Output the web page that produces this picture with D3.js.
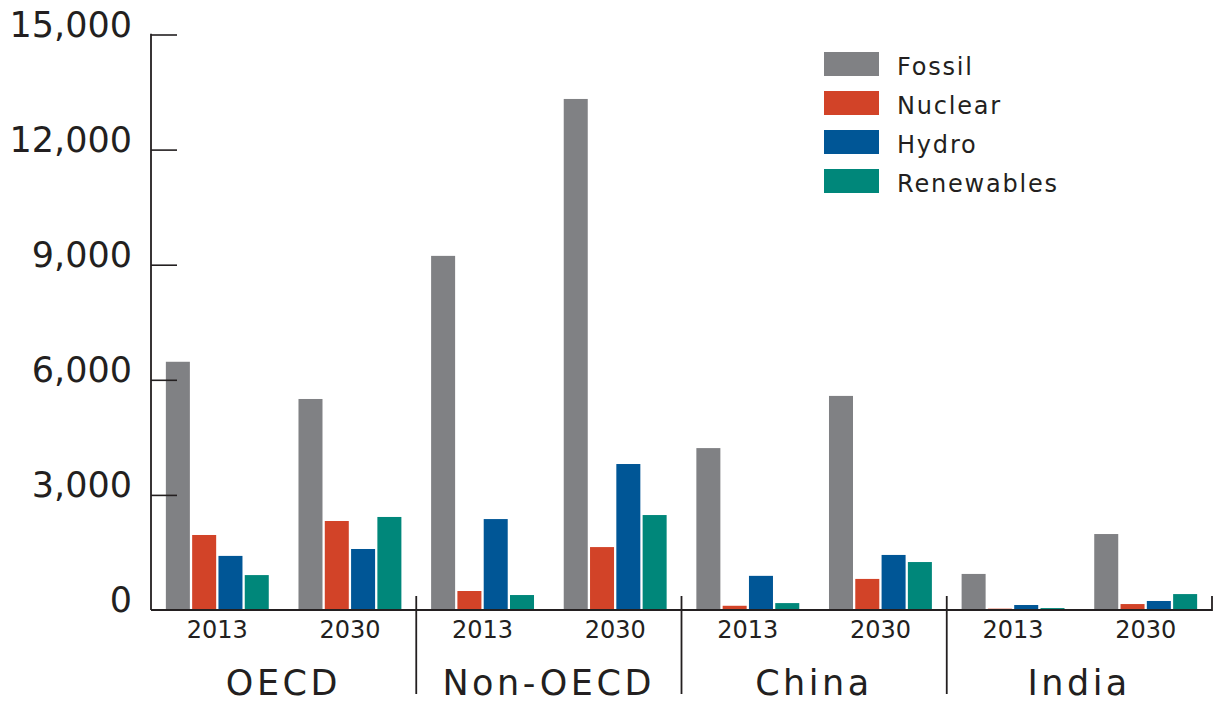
<!DOCTYPE html>
<html>
<head>
<meta charset="utf-8">
<script src="https://cdn.jsdelivr.net/npm/d3@7"></script>
<style>
  html, body { margin: 0; padding: 0; background: #fff; }
  svg { display: block; font-family: "DejaVu Sans", sans-serif; }
</style>
</head>
<body>
<svg id="chart" width="1222" height="704"></svg>
<script>
// Electricity generation by source, 2013 vs 2030
const groups = ["OECD", "Non-OECD", "China", "India"];
const years = ["2013", "2030"];
const series = ["Fossil", "Nuclear", "Hydro", "Renewables"];
const colors = ["#808184", "#d24328", "#005696", "#00877a"];

// values per series, ordered group by group, year by year
const fossil     = [6470, 5500, 9230, 13320, 4220, 5580, 940, 1980];
const nuclear    = [1955, 2320, 495, 1640, 110, 810, 35, 155];
const hydro      = [1410, 1590, 2370, 3805, 890, 1435, 130, 235];
const renewables = [910, 2425, 390, 2475, 180, 1250, 50, 415];

const yTicks = [0, 3000, 6000, 9000, 12000, 15000];

const seriesValues = [fossil, nuclear, hydro, renewables];
const rows = [];
groups.forEach((g, gi) => years.forEach((yr, yi) => {
  const idx = gi * years.length + yi;
  series.forEach((s, si) => rows.push({ group: g, year: yr, series: s, value: seriesValues[si][idx] }));
}));

const svg = d3.select("#chart");
const plotLeft = 151, plotRight = 1212, plotTop = 34.5, plotBottom = 610;
const ink = "#231f20";

const x0 = d3.scaleBand().domain(groups).range([plotLeft, plotRight]).padding(0);
const x1 = d3.scaleBand().domain(years).range([0, x0.bandwidth()]).padding(0);
const x2 = d3.scaleBand().domain(series).range([0, x1.bandwidth()])
  .paddingInner(0.087).paddingOuter(0.565);
const y = d3.scaleLinear().domain([0, 15000]).range([plotBottom, plotTop]);
const color = d3.scaleOrdinal().domain(series).range(colors);

// bars
svg.append("g").selectAll("rect").data(rows).join("rect")
  .attr("x", d => x0(d.group) + x1(d.year) + x2(d.series))
  .attr("y", d => y(d.value))
  .attr("width", x2.bandwidth())
  .attr("height", d => y(0) - y(d.value))
  .attr("fill", d => color(d.series));

// y axis: ticks pointing inward, labels sitting on the tick line
const yAxis = d3.axisRight(y).tickValues(yTicks).tickSize(26).tickFormat("");
const yg = svg.append("g").attr("transform", `translate(${plotLeft},0)`).call(yAxis);
yg.select(".domain").remove();
yg.selectAll(".tick line").attr("stroke", ink).attr("stroke-width", 1.6)
  .filter(d => d === 0).remove();
svg.append("line").attr("x1", plotLeft).attr("x2", plotLeft).attr("y1", y(15000) - 0.8).attr("y2", y(0))
  .attr("stroke", ink).attr("stroke-width", 1.8);
svg.append("g").selectAll("text").data(yTicks).join("text")
  .attr("x", 132).attr("y", d => y(d) + 2)
  .attr("text-anchor", "end")
  .attr("font-size", 35).attr("fill", ink)
  .text(d3.format(","));

// baseline
svg.append("line").attr("x1", plotLeft).attr("x2", plotRight).attr("y1", y(0)).attr("y2", y(0))
  .attr("stroke", ink).attr("stroke-width", 1.8);

// group separators
svg.append("g").selectAll("line").data(groups.slice(1)).join("line")
  .attr("x1", d => x0(d)).attr("x2", d => x0(d))
  .attr("y1", 596).attr("y2", 694)
  .attr("stroke", ink).attr("stroke-width", 1.8);
svg.append("line").attr("x1", plotRight).attr("x2", plotRight).attr("y1", 596).attr("y2", y(0) + 0.9)
  .attr("stroke", ink).attr("stroke-width", 1.8);

// year labels
svg.append("g").selectAll("text").data(groups.flatMap(g => years.map(yr => ({ g, yr })))).join("text")
  .attr("x", d => x0(d.g) + x1(d.yr) + x1.bandwidth() / 2)
  .attr("y", 638)
  .attr("text-anchor", "middle")
  .attr("font-size", 24).attr("fill", ink)
  .text(d => d.yr);

// group labels
const gLs = 3.5;
svg.append("g").selectAll("text").data(groups).join("text")
  .attr("x", d => x0(d) + x0.bandwidth() / 2 - 2)
  .attr("y", 695).attr("dx", gLs / 2)
  .attr("text-anchor", "middle")
  .attr("font-size", 35).attr("letter-spacing", gLs).attr("fill", ink)
  .text(d => d);

// legend
const legend = svg.append("g").attr("transform", "translate(824,52)");
const item = legend.selectAll("g").data(series).join("g")
  .attr("transform", (d, i) => `translate(0,${i * 39})`);
item.append("rect").attr("width", 55).attr("height", 24).attr("fill", d => color(d));
item.append("text").attr("x", 73).attr("y", 22.7)
  .attr("font-size", 24).attr("letter-spacing", 1.8).attr("fill", ink)
  .text(d => d);
</script>
</body>
</html>
